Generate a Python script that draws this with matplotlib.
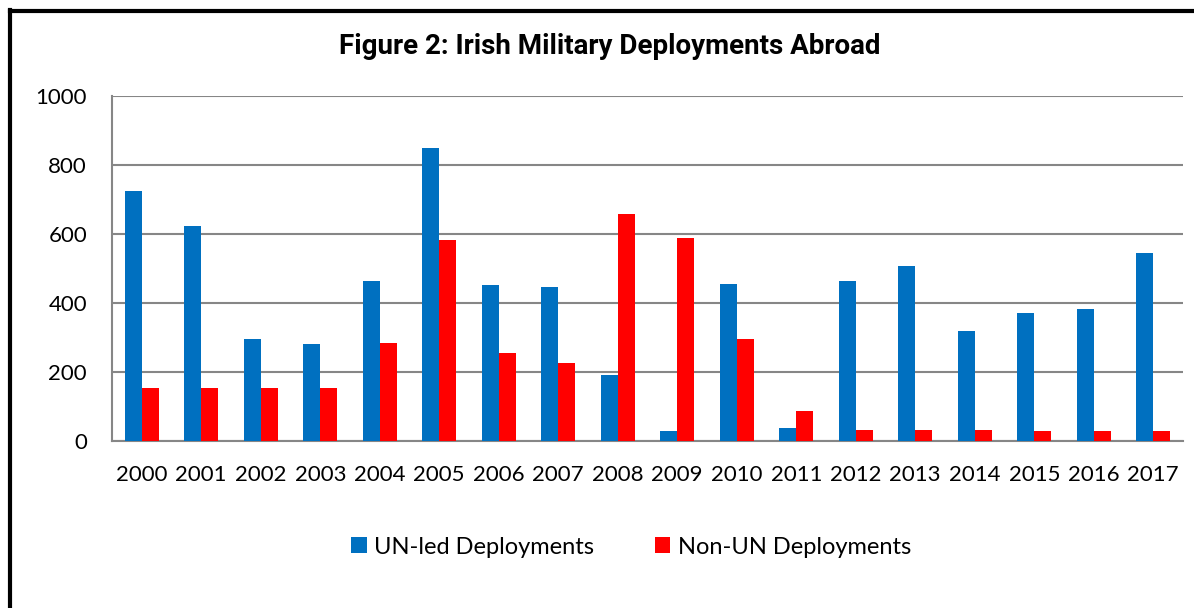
import numpy as np
import matplotlib
matplotlib.use("Agg")
import matplotlib.pyplot as plt
from matplotlib.lines import Line2D

W, H = 1194, 608

years = [str(y) for y in range(2000, 2018)]
un_led = [724, 624, 297, 280, 465, 848, 452, 445, 192,
          30, 454, 37, 465, 507, 320, 370, 382, 544]
non_un = [153, 153, 153, 153, 284, 582, 256, 226, 657,
          587, 297, 86, 33, 33, 33, 30, 30, 30]
yticks = [0, 200, 400, 600, 800, 1000]

BLUE = "#0070C0"
RED = "#FF0000"
GRID = "#868686"


def main():
  fig = plt.figure(figsize=(W / 100, H / 100), dpi=100)
  ax = fig.add_axes([112 / W, 1 - 441 / H, (1183 - 112) / W, (441 - 96) / H])

  # excel style clustered bars, gap width 150%
  x = np.arange(len(years))
  bw = 1 / 3.5
  ax.bar(x - bw / 2, un_led, bw, color=BLUE, label="UN-led Deployments", zorder=3)
  ax.bar(x + bw / 2, non_un, bw, color=RED, label="Non-UN Deployments", zorder=3)

  ax.set_xlim(-0.5, len(years) - 0.5)
  ax.set_ylim(0, 1000)
  ax.set_yticks(yticks)
  ax.set_xticks(x)
  ax.set_xticklabels(years)
  ax.grid(axis="y", color=GRID, lw=1.5, zorder=0)
  ax.tick_params(length=0, labelsize=16)
  ax.tick_params(axis="x", pad=17)
  ax.tick_params(axis="y", pad=18)
  for lab in ax.get_xticklabels() + ax.get_yticklabels():
    lab.set_family("Lato")
  for s in ["top", "right"]:
    ax.spines[s].set_visible(False)
  for s in ["left", "bottom"]:
    ax.spines[s].set_color(GRID)
    ax.spines[s].set_linewidth(1.5)

  fig.text(610 / W, 1 - 47 / H, "Figure 2: Irish Military Deployments Abroad",
           ha="center", va="center", fontsize=20, fontweight="bold",
           family=["Roboto", "DejaVu Sans"])

  ax.legend(loc="center", bbox_to_anchor=(631 / W, 1 - 547 / H),
            bbox_transform=fig.transFigure, ncol=2, frameon=False,
            prop={"family": "Lato", "size": 17}, handlelength=0.65,
            handleheight=0.65, handletextpad=0.3, columnspacing=2.6)

  # chart frame, only left and top edges show in the crop
  fig.add_artist(Line2D([10 / W, 10 / W], [0, 1 - 10 / H], color="black",
                        lw=3, transform=fig.transFigure))
  fig.add_artist(Line2D([10 / W, 1], [1 - 10.5 / H, 1 - 10.5 / H], color="black",
                        lw=3, transform=fig.transFigure))

  fig.savefig("out.png", dpi=100)


if __name__ == "__main__":
  main()
